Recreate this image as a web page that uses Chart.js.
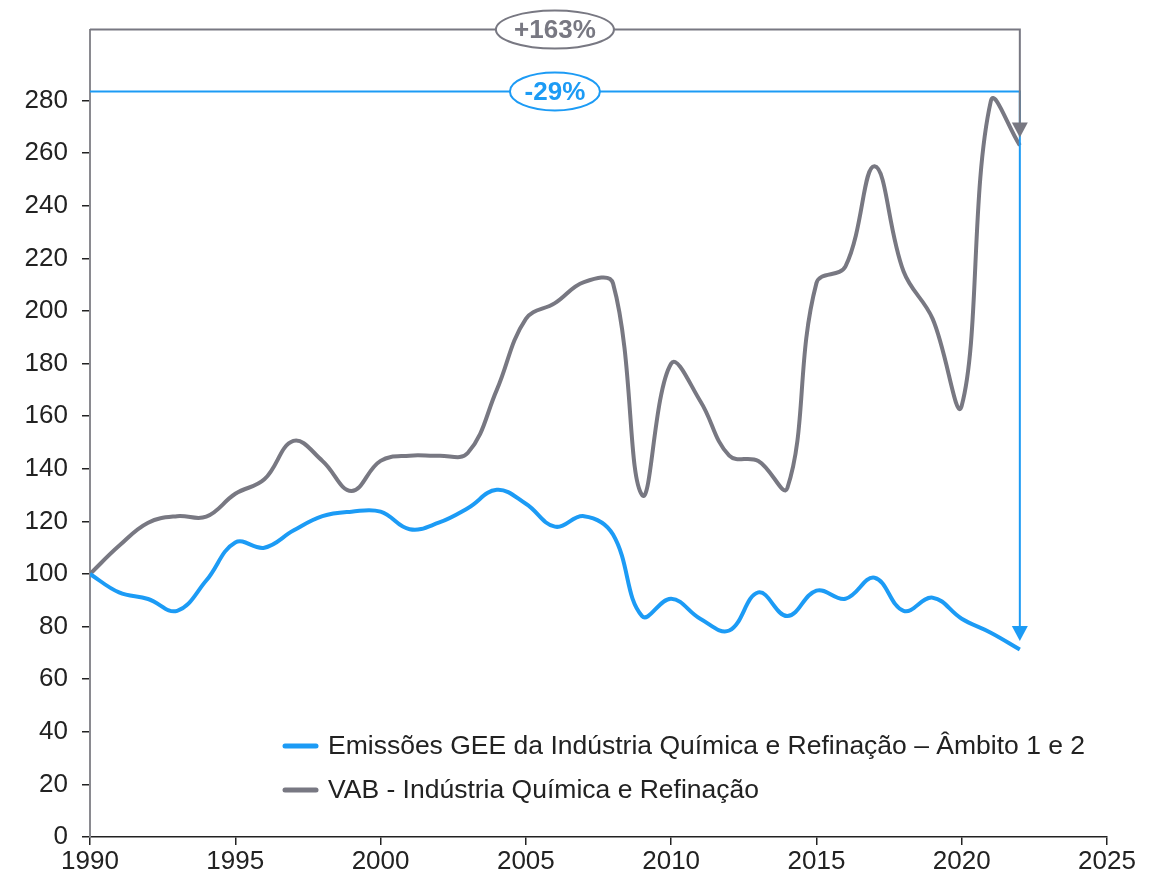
<!DOCTYPE html>
<html>
<head>
<meta charset="utf-8">
<script src="https://cdn.jsdelivr.net/npm/chart.js@4.4.1/dist/chart.umd.min.js"></script>
<style>
  html, body { margin: 0; padding: 0; background: #fff; }
  #wrap { width: 1165px; height: 881px; }
</style>
</head>
<body>
<div id="wrap"><canvas id="myChart" width="1165" height="881"></canvas></div>
<script>
const years = [1990, 1991, 1992, 1993, 1994, 1995, 1996, 1997, 1998, 1999, 2000, 2001, 2002, 2003, 2004, 2005,
    2006, 2007, 2008, 2009, 2010, 2011, 2012, 2013, 2014, 2015, 2016, 2017, 2018, 2019, 2020, 2021, 2022];
const emissoes = [100, 93, 90.5, 86, 97.5, 112, 110, 116.5, 122, 123.7, 123.7, 117, 119.5, 125, 132, 126.7,
    118, 122, 115, 84, 90.6, 83, 78.5, 93, 84, 93.7, 90.6, 98.6, 86, 91, 83, 77.7, 71.3];
const vab = [100, 110.7, 119.5, 122, 121.8, 130.5, 136, 150.6, 143, 131.6, 143, 145, 145, 146, 170, 197,
    203, 211, 210.5, 130, 180, 165.8, 145, 143, 132.7, 210.6, 217, 255, 215, 197, 164, 279.7, 263];
const labels = ['Emissões GEE da Indústria Química e Refinação – Âmbito 1 e 2', 'VAB - Indústria Química e Refinação'];
const yTicks = [0, 20, 40, 60, 80, 100, 120, 140, 160, 180, 200, 220, 240, 260, 280];
const xTicks = [1990, 1995, 2000, 2005, 2010, 2015, 2020, 2025];

const BLUE = '#1c9bf5';
const GREY = '#787882';
const FONT = '"Liberation Sans", Arial, sans-serif';

// arrows / brackets drawn on top
const annotations = {
    endYear: 2022,
    labelYear: 2006,
    grey: { level: 307, tip: 266, text: '+163%' },
    blue: { level: 283.5, tip: 74.5, text: '-29%' }
};

const overlay = {
    id: 'overlay',
    afterDatasetsDraw(chart) {
        const ctx = chart.ctx;
        const x = chart.scales.x, y = chart.scales.y;
        const x0 = x.getPixelForValue(1990);
        const x1 = x.getPixelForValue(annotations.endYear);
        const xl = x.getPixelForValue(annotations.labelYear);

        const drawBracket = (a, color, rx, ry) => {
            const yl = y.getPixelForValue(a.level);
            const yt = y.getPixelForValue(a.tip);
            ctx.save();
            ctx.strokeStyle = color;
            ctx.lineWidth = 2;
            ctx.beginPath();
            ctx.moveTo(x0, yl);
            ctx.lineTo(x1, yl);
            ctx.lineTo(x1, yt - 14);
            ctx.stroke();
            ctx.fillStyle = color;
            ctx.beginPath();
            ctx.moveTo(x1 - 8, yt - 15);
            ctx.lineTo(x1 + 8, yt - 15);
            ctx.lineTo(x1, yt);
            ctx.closePath();
            ctx.fill();
            // label ellipse
            ctx.beginPath();
            ctx.ellipse(xl, yl, rx, ry, 0, 0, Math.PI * 2);
            ctx.fillStyle = '#fff';
            ctx.fill();
            ctx.stroke();
            ctx.fillStyle = color;
            ctx.font = 'bold 26px ' + FONT;
            ctx.textAlign = 'center';
            ctx.textBaseline = 'middle';
            ctx.fillText(a.text, xl, yl + 1);
            ctx.restore();
        };
        drawBracket(annotations.blue, BLUE, 45, 19);
        drawBracket(annotations.grey, GREY, 59, 19);

        // legend
        ctx.save();
        ctx.font = '26.5px ' + FONT;
        ctx.textBaseline = 'middle';
        ctx.fillStyle = '#222';
        chart.data.datasets.forEach((ds, i) => {
            const ly = 746 + i * 44;
            ctx.strokeStyle = ds.borderColor;
            ctx.lineWidth = 5;
            ctx.lineCap = 'round';
            ctx.beginPath();
            ctx.moveTo(285, ly);
            ctx.lineTo(316, ly);
            ctx.stroke();
            ctx.fillText(ds.label, 328, ly + 1);
        });
        ctx.restore();
    }
};

new Chart(document.getElementById('myChart'), {
    type: 'line',
    data: {
        datasets: [{
            label: labels[0],
            data: years.map((yr, i) => ({ x: yr, y: emissoes[i] })),
            borderColor: BLUE,
            borderWidth: 4,
            tension: 0.4,
            pointRadius: 0
        }, {
            label: labels[1],
            data: years.map((yr, i) => ({ x: yr, y: vab[i] })),
            borderColor: GREY,
            borderWidth: 4,
            tension: 0.4,
            pointRadius: 0
        }]
    },
    options: {
        responsive: false,
        animation: false,
        layout: { padding: { top: 29, right: 58, left: 0, bottom: 0 } },
        plugins: { legend: { display: false }, tooltip: { enabled: false } },
        scales: {
            x: {
                type: 'linear',
                min: 1990,
                max: 2025,
                afterBuildTicks: (s) => { s.ticks = xTicks.map(v => ({ value: v })); },
                afterFit: (s) => { s.height = 44; },
                border: { color: '#222', width: 1.5 },
                grid: { drawOnChartArea: false, tickLength: 8, color: '#222', lineWidth: 1.5 },
                ticks: { color: '#222', font: { family: FONT, size: 26 }, padding: 1, maxRotation: 0, callback: v => String(v) }
            },
            y: {
                min: 0,
                max: 307,
                afterBuildTicks: (s) => { s.ticks = yTicks.map(v => ({ value: v })); },
                afterFit: (s) => { s.width = 90; },
                border: { color: '#8a8a90', width: 2 },
                grid: { drawOnChartArea: false, tickLength: 8, color: '#222', lineWidth: 1.5 },
                ticks: { color: '#222', font: { family: FONT, size: 26 }, padding: 14 }
            }
        }
    },
    plugins: [overlay]
});
</script>
</body>
</html>
